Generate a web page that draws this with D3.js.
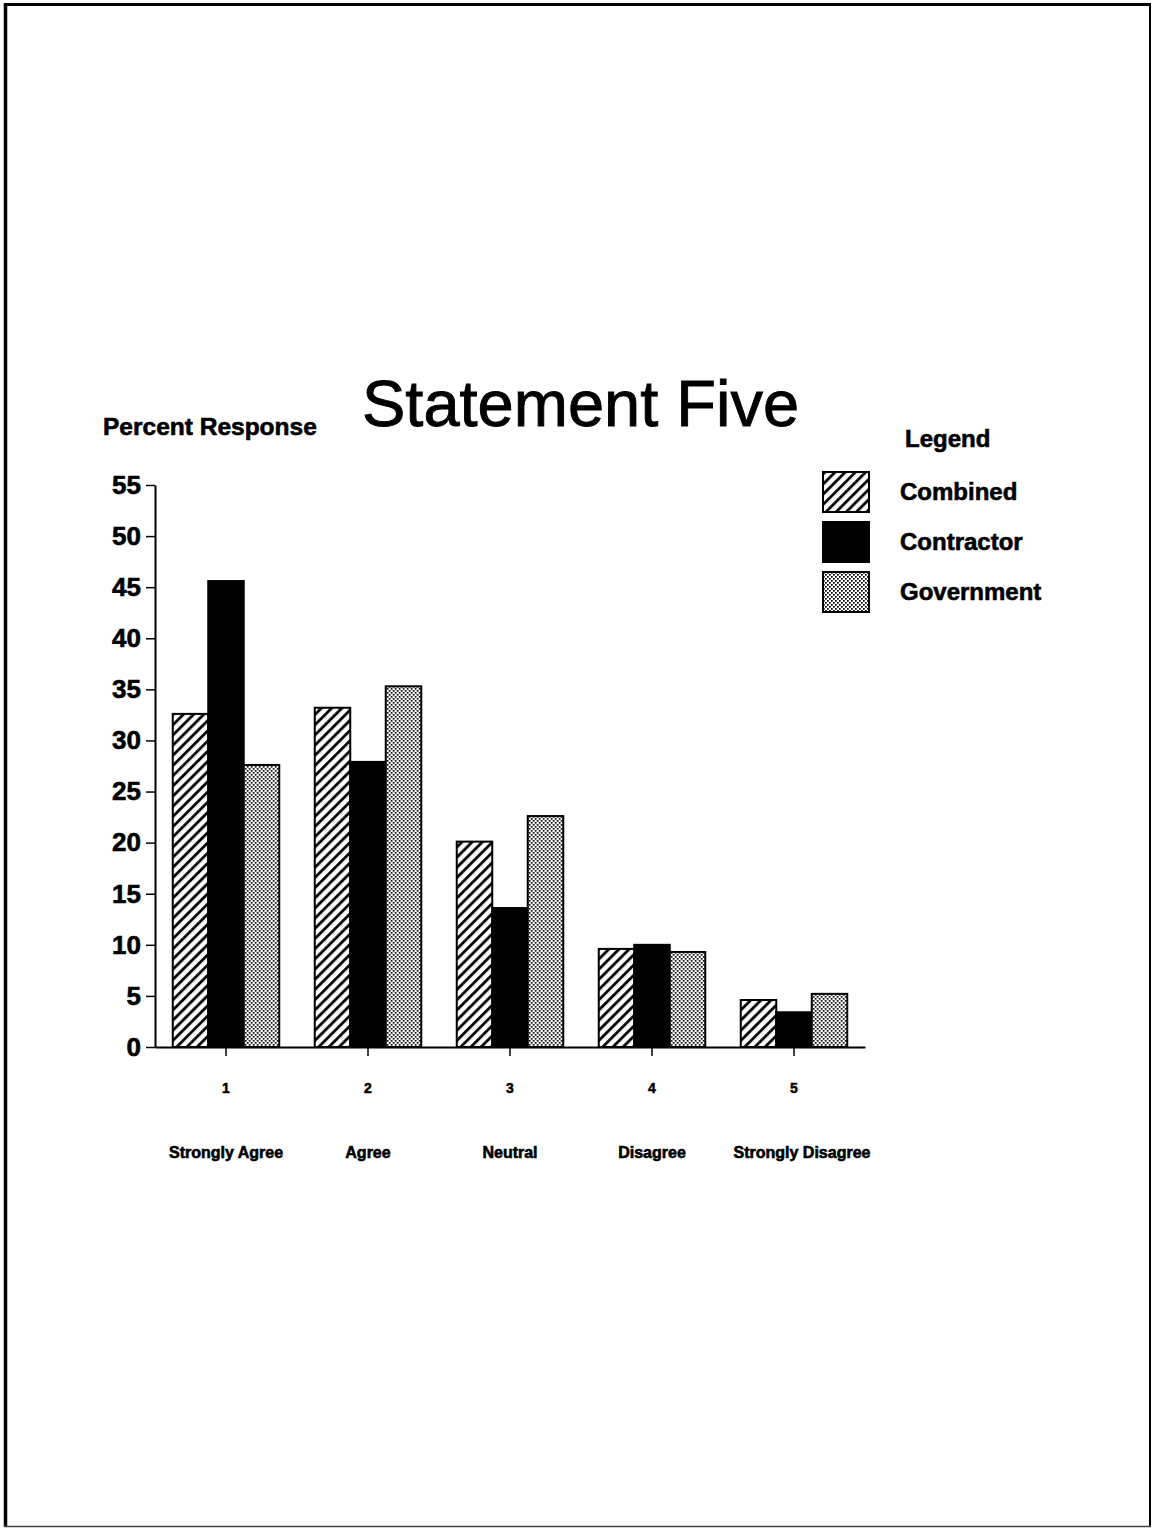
<!DOCTYPE html>
<html>
<head>
<meta charset="utf-8">
<script src="https://cdn.jsdelivr.net/npm/d3@7"></script>
<style>
  html, body { margin: 0; padding: 0; background: #fff; }
  svg { display: block; }
  text { font-family: "Liberation Sans", Arial, Helvetica, sans-serif; fill: #000; }
</style>
</head>
<body>
<script>
// Survey responses to statement five, percent by respondent group
const categories = ["1", "2", "3", "4", "5"];
const categoryNames = ["Strongly Agree", "Agree", "Neutral", "Disagree", "Strongly Disagree"];
const seriesNames = ["Combined", "Contractor", "Government"];
const combined   = [32.6, 33.2, 20.1, 9.6, 4.6];
const contractor = [45.6, 27.9, 13.6, 10.0, 3.4];
const government = [27.6, 35.3, 22.6, 9.3, 5.2];
const yTicks = [0, 5, 10, 15, 20, 25, 30, 35, 40, 45, 50, 55];

const seriesValues = [combined, contractor, government];
const W = 1152, H = 1529;

const svg = d3.select("body").append("svg")
  .attr("width", W).attr("height", H)
  .attr("viewBox", `0 0 ${W} ${H}`);

// Fill patterns: diagonal hatch, solid black, fine stipple
const defs = svg.append("defs");
const hatch = defs.append("pattern")
  .attr("id", "hatch").attr("patternUnits", "userSpaceOnUse")
  .attr("width", 7.2).attr("height", 7.2)
  .attr("patternTransform", "rotate(45)");
hatch.append("rect").attr("width", 7.2).attr("height", 7.2).attr("fill", "#fff");
hatch.append("line").attr("x1", 1.5).attr("y1", 0).attr("x2", 1.5).attr("y2", 7.2)
  .attr("stroke", "#000").attr("stroke-width", 2.8);

const stip = defs.append("pattern")
  .attr("id", "stipple").attr("patternUnits", "userSpaceOnUse")
  .attr("width", 4).attr("height", 4);
stip.append("rect").attr("width", 4).attr("height", 4).attr("fill", "#fff");
stip.append("rect").attr("x", 0).attr("y", 0).attr("width", 1.7).attr("height", 1.7).attr("fill", "#000");
stip.append("rect").attr("x", 2).attr("y", 2).attr("width", 1.7).attr("height", 1.7).attr("fill", "#000");

const fills = ["url(#hatch)", "#000", "url(#stipple)"];

// Page frame
const frame = svg.append("g").attr("fill", "none").attr("stroke", "#000");
frame.append("line").attr("x1", 5.5).attr("y1", 3).attr("x2", 5.5).attr("y2", 1527).attr("stroke-width", 3.5);
frame.append("line").attr("x1", 4).attr("y1", 4.5).attr("x2", 1151).attr("y2", 4.5).attr("stroke-width", 3);
frame.append("line").attr("x1", 1150).attr("y1", 3).attr("x2", 1150).attr("y2", 1527).attr("stroke-width", 2);
frame.append("line").attr("x1", 4).attr("y1", 1526.5).attr("x2", 1151).attr("y2", 1526.5).attr("stroke-width", 1.5).attr("stroke", "#444");

// Scales
const x0 = d3.scaleBand().domain(categories).range([155, 865])
  .paddingInner(0.25).paddingOuter(0.125);
const x1 = d3.scaleBand().domain(seriesNames).range([0, x0.bandwidth()]);
const y = d3.scaleLinear().domain([0, 55]).range([1047, 485]);

// Bars
const groups = svg.append("g").selectAll("g")
  .data(categories)
  .join("g")
  .attr("transform", d => `translate(${x0(d)},0)`);

groups.selectAll("rect")
  .data((c, i) => seriesNames.map((s, j) => ({ s, j, v: seriesValues[j][i] })))
  .join("rect")
  .attr("x", d => x1(d.s))
  .attr("y", d => y(d.v))
  .attr("width", x1.bandwidth())
  .attr("height", d => y(0) - y(d.v))
  .attr("fill", d => fills[d.j])
  .attr("stroke", "#000")
  .attr("stroke-width", 2);

// Y axis
const yAxis = svg.append("g")
  .attr("transform", "translate(155,0)")
  .call(d3.axisLeft(y).tickValues(yTicks).tickSize(9).tickSizeOuter(0).tickPadding(5));
yAxis.select(".domain").attr("stroke-width", 2);
yAxis.selectAll(".tick line").attr("stroke-width", 1.5);
yAxis.selectAll("text")
  .attr("font-size", 26).attr("font-weight", "bold")
  .attr("font-family", "Liberation Sans, Arial, sans-serif")
  .attr("stroke", "#000").attr("stroke-width", 0.6);

// X axis
const xAxis = svg.append("g")
  .attr("transform", `translate(0,${y(0)})`)
  .call(d3.axisBottom(x0).tickSize(9).tickSizeOuter(0).tickPadding(27));
xAxis.select(".domain").attr("stroke-width", 2);
xAxis.selectAll(".tick line").attr("stroke-width", 1.5);
xAxis.selectAll("text")
  .attr("font-size", 14).attr("font-weight", "bold")
  .attr("font-family", "Liberation Sans, Arial, sans-serif")
  .attr("stroke", "#000").attr("stroke-width", 0.5);

// Category names under the axis
svg.append("g").selectAll("text")
  .data(categories)
  .join("text")
  .attr("x", (d, i) => x0(d) + x0.bandwidth() / 2 + (i === 4 ? 8 : 0))
  .attr("y", 1158)
  .attr("text-anchor", "middle")
  .attr("font-size", 16).attr("font-weight", "bold")
  .attr("stroke", "#000").attr("stroke-width", 0.6)
  .text((d, i) => categoryNames[i]);

// Titles
svg.append("text")
  .attr("x", 362).attr("y", 426)
  .attr("font-size", 65)
  .attr("stroke", "#000").attr("stroke-width", 0.9)
  .text("Statement Five");

svg.append("text")
  .attr("x", 103).attr("y", 435)
  .attr("font-size", 24.5).attr("font-weight", "bold")
  .attr("stroke", "#000").attr("stroke-width", 0.6)
  .text("Percent Response");

// Legend
const legend = svg.append("g");
legend.append("text")
  .attr("x", 905).attr("y", 447)
  .attr("font-size", 24).attr("font-weight", "bold")
  .attr("stroke", "#000").attr("stroke-width", 0.6)
  .text("Legend");

const items = legend.selectAll("g.item")
  .data(seriesNames)
  .join("g")
  .attr("class", "item")
  .attr("transform", (d, i) => `translate(823,${472 + i * 50})`);
items.append("rect")
  .attr("width", 46).attr("height", 40)
  .attr("fill", (d, i) => fills[i])
  .attr("stroke", "#000").attr("stroke-width", 2);
items.append("text")
  .attr("x", 77).attr("y", 28)
  .attr("font-size", 24).attr("font-weight", "bold")
  .attr("stroke", "#000").attr("stroke-width", 0.6)
  .text(d => d);
</script>
</body>
</html>
